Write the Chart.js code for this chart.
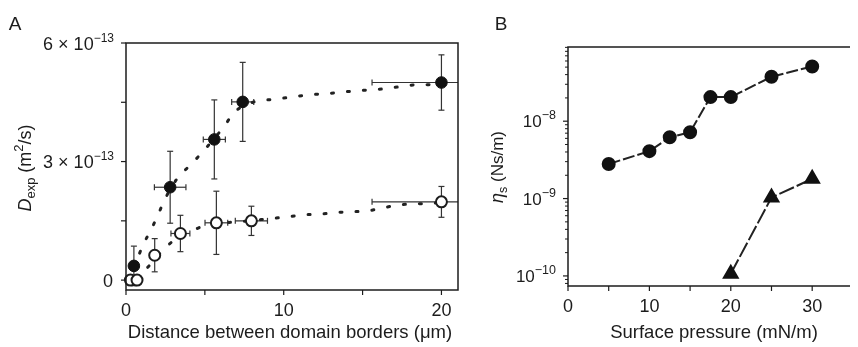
<!DOCTYPE html>
<html>
<head>
<meta charset="utf-8">
<script src="https://cdn.jsdelivr.net/npm/chart.js@4.4.0/dist/chart.umd.min.js"></script>
<style>
  html, body { margin: 0; padding: 0; background: #fff; }
  #wrap { position: relative; width: 858px; height: 347px; overflow: hidden; }
  #chartA { position: absolute; left: 0; top: 0; }
  #chartB { position: absolute; left: 470px; top: 0; }
</style>
</head>
<body>
<div id="wrap">
  <canvas id="chartA" width="470" height="347"></canvas>
  <canvas id="chartB" width="388" height="347"></canvas>
</div>
<script>
// ---- panel A: D_exp (units of 1e-13 m^2/s) vs distance between domain borders (um)
var filledDist    = [0.5, 2.8, 5.6, 7.4, 20];
var filledD       = [0.36, 2.35, 3.56, 4.51, 5.0];
var filledDErr    = [0.5, 0.91, 1.0, 1.0, 0.7];
var filledDistErr = [0, 1.0, 0.7, 0.7, 4.4];

var openDist    = [0.28, 0.7, 1.82, 3.45, 5.73, 7.95, 20];
var openD       = [0, 0, 0.63, 1.18, 1.45, 1.5, 1.98];
var openDErr    = [0.08, 0.08, 0.42, 0.46, 0.8, 0.37, 0.39];
var openDistErr = [0, 0.2, 0, 0.6, 0.72, 1.02, 4.4];

// dotted fit curves
var filledFitDist = [0.5, 1.08, 1.61, 2.07, 2.52, 3.23, 4.15, 5.05, 6.2, 6.9, 8.2, 9.22, 10.27, 11.2, 12.3, 13.3, 14.3, 15.28, 16.3, 17.3, 18.3, 19.4, 20];
var filledFitD    = [0.3, 0.89, 1.29, 1.69, 2.09, 2.56, 2.94, 3.33, 3.88, 4.26, 4.52, 4.57, 4.62, 4.67, 4.71, 4.74, 4.78, 4.81, 4.84, 4.89, 4.94, 4.95, 5.0];
var openFitDist = [0.7, 1.46, 2.92, 4.08, 5.05, 7.32, 9.22, 10.27, 11.2, 12.3, 13.3, 14.3, 15.28, 16.3, 17.3, 18.3, 19.4, 20];
var openFitD    = [0.02, 0.36, 0.97, 1.22, 1.39, 1.48, 1.56, 1.6, 1.65, 1.67, 1.71, 1.73, 1.75, 1.83, 1.9, 1.93, 1.94, 1.98];

var distTicks = [0, 5, 10, 15, 20];
var distTickLabels = ['0', '', '10', '', '20'];
var dTicks = [0, 1.5, 3, 4.5, 6];
var dTickLabels = ['0', '', '3', '', '6'];
var dTickExp = '\u221213';

// ---- panel B: eta_s (Ns/m) vs surface pressure (mN/m)
var pressure = [5, 10, 12.5, 15, 17.5, 20, 25, 30];
var etaCircle = [2.8e-9, 4.1e-9, 6.2e-9, 7.2e-9, 2.05e-8, 2.05e-8, 3.75e-8, 5.1e-8];
var pressureTri = [20, 25, 30];
var etaTri = [1.07e-10, 1.03e-9, 1.8e-9];

var pressTicks = [0, 5, 10, 15, 20, 25, 30];
var pressTickLabels = ['0', '', '10', '', '20', '', '30'];
var etaDecades = [-10, -9, -8];

var FONT = '"Liberation Sans", Arial, sans-serif';
var INK = '#1c1c1c';

function pts(xs, ys) {
  return xs.map(function (x, i) { return { x: x, y: ys[i] }; });
}

function seg(ctx, x1, y1, x2, y2) {
  ctx.beginPath(); ctx.moveTo(x1, y1); ctx.lineTo(x2, y2); ctx.stroke();
}

// parts: [text, size, dy, italic]
function richText(ctx, parts, x, y, align) {
  var w = 0;
  parts.forEach(function (p) {
    ctx.font = (p[3] ? 'italic ' : '') + p[1] + 'px ' + FONT;
    p.w = ctx.measureText(p[0]).width;
    w += p.w;
  });
  var cx = align === 'right' ? x - w : (align === 'center' ? x - w / 2 : x);
  ctx.textAlign = 'left';
  ctx.textBaseline = 'alphabetic';
  parts.forEach(function (p) {
    ctx.font = (p[3] ? 'italic ' : '') + p[1] + 'px ' + FONT;
    ctx.fillText(p[0], cx, y + p[2]);
    cx += p.w;
  });
}

function xTicks(ctx, scale, area, values, labels) {
  values.forEach(function (v, i) {
    var px = scale.getPixelForValue(v);
    seg(ctx, px, area.bottom, px, area.bottom + 5);
    if (labels[i]) richText(ctx, [[labels[i], 18, 0]], px, area.bottom + 26, 'center');
  });
}

var errorBarsA = {
  id: 'errorBarsA',
  beforeDatasetsDraw: function (chart) {
    var ctx = chart.ctx, a = chart.chartArea, xs = chart.scales.x, ys = chart.scales.y;
    ctx.save();
    ctx.beginPath();
    ctx.rect(a.left, a.top - 20, a.right - a.left, a.bottom - a.top + 20);
    ctx.clip();
    ctx.strokeStyle = '#333';
    ctx.lineWidth = 1.2;
    function bars(dx, dy, ex, ey) {
      dx.forEach(function (xv, i) {
        var px = xs.getPixelForValue(xv), py = ys.getPixelForValue(dy[i]);
        if (ey[i]) {
          var t = ys.getPixelForValue(dy[i] + ey[i]), b = ys.getPixelForValue(dy[i] - ey[i]);
          seg(ctx, px, t, px, b);
          seg(ctx, px - 3, t, px + 3, t);
          seg(ctx, px - 3, b, px + 3, b);
        }
        if (ex[i]) {
          var l = xs.getPixelForValue(xv - ex[i]), r = xs.getPixelForValue(xv + ex[i]);
          seg(ctx, l, py, r, py);
          seg(ctx, l, py - 3, l, py + 3);
          seg(ctx, r, py - 3, r, py + 3);
        }
      });
    }
    bars(filledDist, filledD, filledDistErr, filledDErr);
    bars(openDist, openD, openDistErr, openDErr);
    ctx.restore();
  }
};

var axesA = {
  id: 'axesA',
  afterDraw: function (chart) {
    var ctx = chart.ctx, a = chart.chartArea, xs = chart.scales.x, ys = chart.scales.y;
    ctx.save();
    ctx.fillStyle = INK;
    ctx.strokeStyle = INK;
    ctx.lineWidth = 1.5;
    ctx.strokeRect(a.left, a.top, a.right - a.left, a.bottom - a.top);
    ctx.lineWidth = 1.2;
    xTicks(ctx, xs, a, distTicks, distTickLabels);
    dTicks.forEach(function (v, i) {
      var py = ys.getPixelForValue(v);
      seg(ctx, a.left - 5, py, a.left, py);
      var lab = dTickLabels[i];
      if (lab === '0') richText(ctx, [['0', 18, 0]], a.left - 13, py + 6.5, 'right');
      else if (lab) richText(ctx, [[lab + ' \u00d7 10', 18, 0], [dTickExp, 12, -8]], a.left - 12, py + 6.5, 'right');
    });
    richText(ctx, [['Distance between domain borders (\u03bcm)', 18.5, 0]], 290, 338, 'center');
    richText(ctx, [['A', 19, 0]], 15, 30, 'center');
    ctx.translate(31, 168);
    ctx.rotate(-Math.PI / 2);
    richText(ctx, [['D', 18, 0, true], ['exp', 13, 4], [' (m', 18, 0], ['2', 13, -8], ['/s)', 18, 0]], 0, 0, 'center');
    ctx.restore();
  }
};

var axesB = {
  id: 'axesB',
  afterDraw: function (chart) {
    var ctx = chart.ctx, a = chart.chartArea, xs = chart.scales.x, ys = chart.scales.y;
    ctx.save();
    ctx.fillStyle = INK;
    ctx.strokeStyle = INK;
    ctx.lineWidth = 1.5;
    ctx.beginPath();
    ctx.moveTo(a.right + 2, a.top); ctx.lineTo(a.left, a.top);
    ctx.lineTo(a.left, a.bottom); ctx.lineTo(a.right + 2, a.bottom);
    ctx.stroke();
    ctx.lineWidth = 1.2;
    xTicks(ctx, xs, a, pressTicks, pressTickLabels);
    ctx.lineWidth = 1;
    for (var d = -11; d <= -8; d++) {
      for (var m = 2; m <= 9; m++) {
        var v = m * Math.pow(10, d);
        if (v < ys.min || v > ys.max) continue;
        var py = ys.getPixelForValue(v);
        seg(ctx, a.left - 3, py, a.left, py);
      }
    }
    ctx.lineWidth = 1.2;
    etaDecades.forEach(function (e) {
      var py = ys.getPixelForValue(Math.pow(10, e));
      seg(ctx, a.left - 5, py, a.left, py);
      richText(ctx, [['10', 17, 0], ['\u2212' + (-e), 12.5, -8]], a.left - 12, py + 6, 'right');
    });
    richText(ctx, [['Surface pressure (mN/m)', 18.5, 0]], 244, 338, 'center');
    richText(ctx, [['B', 19, 0]], 31, 30, 'center');
    ctx.translate(33, 167);
    ctx.rotate(-Math.PI / 2);
    richText(ctx, [['\u03b7', 18, 0, true], ['s', 12.5, 4], [' (Ns/m)', 17, 0]], 0, 0, 'center');
    ctx.restore();
  }
};

var common = {
  responsive: false,
  animation: false,
  events: [],
  plugins: { legend: { display: false }, tooltip: { enabled: false } }
};

new Chart(document.getElementById('chartA'), {
  type: 'scatter',
  data: {
    datasets: [
      { data: pts(openDist, openD), pointRadius: 5.5, pointBackgroundColor: '#fff',
        pointBorderColor: INK, pointBorderWidth: 2, showLine: false, clip: false, order: 0 },
      { data: pts(filledDist, filledD), pointRadius: 5.8, pointBackgroundColor: '#111',
        pointBorderColor: '#111', pointBorderWidth: 1, showLine: false, clip: false, order: 1 },
      { data: pts(filledFitDist, filledFitD), showLine: true, pointRadius: 0, borderColor: '#222',
        borderWidth: 3, borderDash: [2, 14], borderCapStyle: 'round',
        cubicInterpolationMode: 'monotone', order: 5 },
      { data: pts(openFitDist, openFitD), showLine: true, pointRadius: 0, borderColor: '#222',
        borderWidth: 3, borderDash: [2, 14], borderCapStyle: 'round',
        cubicInterpolationMode: 'monotone', order: 6 }
    ]
  },
  options: Object.assign({}, common, {
    layout: { padding: { left: 126, top: 43, right: 12, bottom: 57 } },
    scales: {
      x: { type: 'linear', display: false, min: 0, max: 21.05 },
      y: { type: 'linear', display: false, min: -0.25, max: 6 }
    }
  }),
  plugins: [errorBarsA, axesA]
});

new Chart(document.getElementById('chartB'), {
  type: 'scatter',
  data: {
    datasets: [
      { data: pts(pressure, etaCircle), showLine: true, pointStyle: 'circle', pointRadius: 6,
        pointBackgroundColor: '#111', pointBorderColor: '#111', borderColor: '#222',
        borderWidth: 2, borderDash: [12, 3], clip: false },
      { data: pts(pressureTri, etaTri), showLine: true, pointStyle: 'triangle', pointRadius: 8,
        pointBackgroundColor: '#111', pointBorderColor: '#111', borderColor: '#222',
        borderWidth: 2, borderDash: [16, 3], clip: false }
    ]
  },
  options: Object.assign({}, common, {
    layout: { padding: { left: 98, top: 47, right: 0, bottom: 61 } },
    scales: {
      x: { type: 'linear', display: false, min: 0, max: 34.4 },
      y: { type: 'logarithmic', display: false, min: 7.41e-11, max: 9.1e-8 }
    }
  }),
  plugins: [axesB]
});
</script>
</body>
</html>
